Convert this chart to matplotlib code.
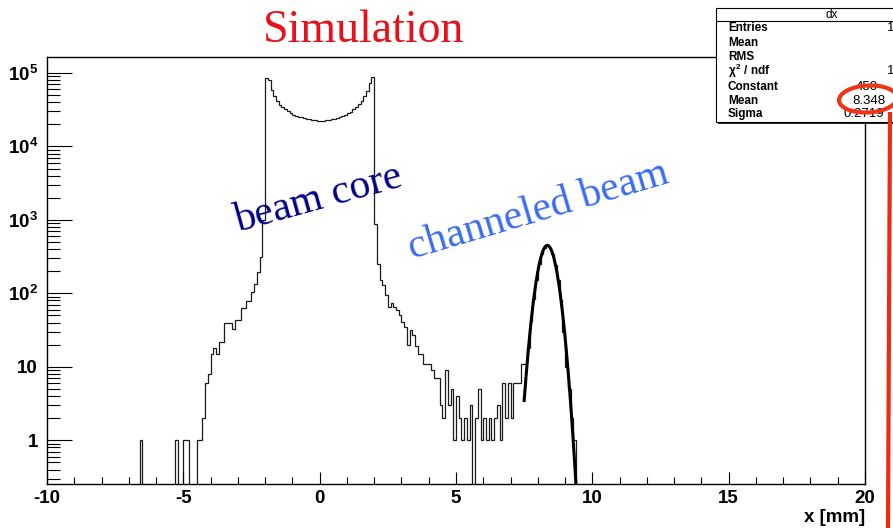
import numpy as np
import matplotlib
matplotlib.use("Agg")
import matplotlib.pyplot as plt
from matplotlib.patches import Rectangle, Ellipse
from matplotlib.ticker import FixedLocator, FuncFormatter, MultipleLocator, LogLocator, NullFormatter

plt.rcParams['font.family'] = ['Liberation Sans', 'DejaVu Sans']
plt.rcParams['mathtext.fontset'] = 'custom'
plt.rcParams['mathtext.rm'] = 'Liberation Sans:bold'
plt.rcParams['mathtext.bf'] = 'Liberation Sans:bold'
plt.rcParams['mathtext.it'] = 'Liberation Sans:bold'

# ---------------- data ----------------
bin_width = 0.1
x_min, x_max = -10.0, 20.0

# left tail, bins starting at -6.6 ... -2.1
left_tail_start = -6.6
left_tail_counts = [1, 0, 0, 0, 0, 0, 0, 0, 0, 0, 0, 0, 0, 1, 0, 0, 1, 1, 0, 0, 0,
                    1, 1, 2, 6, 8, 15, 18, 15, 22, 22, 39, 39, 39, 33, 43, 43,
                    64, 64, 79, 79, 105, 136, 196, 314, 1000]

# beam core, bins starting at -2.0 ... 1.9
core_start = -2.0
core_counts = [86000, 80000, 58000, 48000, 41000, 37000, 34000, 32000, 30000, 28500,
               27000, 26000, 25500, 24800, 24300, 23800, 23300, 23000, 22600, 22300,
               22000, 22200, 22700, 23200, 23600, 24000, 24600, 25300, 26000, 27000,
               28300, 29800, 32000, 34500, 37500, 42000, 48000, 56000, 72000, 88000]

# right tail, bins starting at 2.0 ... 7.5
right_tail_start = 2.0
right_tail_counts = [890, 250, 150, 130, 95, 65, 73, 65, 59, 50,
                     41, 35, 20, 32, 27, 19, 15, 15, 11, 11,
                     11, 9, 7, 7, 3, 2, 9, 3, 5, 1,
                     4, 2, 1, 2, 1, 3, 0, 2, 5, 1,
                     2, 1, 2, 1, 2, 3, 1, 6, 2, 6,
                     2, 6, 6, 6, 11, 11]

# channeled peak, bins starting at 7.6 ... 9.3
peak_start = 7.6
peak_counts = [18, 42, 85, 150, 250, 340, 420, 445, 420, 340,
               245, 150, 80, 30, 10, 5, 2, 1]

# gaussian fit parameters (stats box)
fit_constant = 450.0
fit_mean = 8.348
fit_sigma = 0.2719
fit_range = (7.5, 9.5)

x_ticks = [-10, -5, 0, 5, 10, 15, 20]
y_ticks = [1, 10, 1e2, 1e3, 1e4, 1e5]
y_tick_labels = ['1', '10', r'$10^{2}$', r'$10^{3}$', r'$10^{4}$', r'$10^{5}$']

stat_names = ['Entries', 'Mean', 'RMS', r'$\chi^{2}$ / ndf', 'Constant', 'Mean', 'Sigma']
stat_values = ['1', '', '', '1', '450', '8.348', '0.2719']

# ---------------- build histogram ----------------
nbins = int(round((x_max - x_min) / bin_width))
edges = x_min + bin_width * np.arange(nbins + 1)
counts = np.zeros(nbins)
for start, vals in [(left_tail_start, left_tail_counts), (core_start, core_counts),
                    (right_tail_start, right_tail_counts), (peak_start, peak_counts)]:
    i0 = int(round((start - x_min) / bin_width))
    counts[i0:i0 + len(vals)] = vals

floor = 1e-3
counts_plot = np.where(counts > 0, counts, floor)

# ---------------- figure ----------------
W, H = 893, 528
fig = plt.figure(figsize=(W / 100, H / 100), dpi=100)
ax_l, ax_r, ax_t, ax_b = 47, 865, 57, 484
ax = fig.add_axes([ax_l / W, 1 - ax_b / H, (ax_r - ax_l) / W, (ax_b - ax_t) / H])

ax.stairs(counts_plot, edges, baseline=floor, color='#1a1a1a', lw=0.9)

xf = np.linspace(fit_range[0], fit_range[1], 400)
yf = fit_constant * np.exp(-0.5 * ((xf - fit_mean) / fit_sigma) ** 2)
ax.plot(xf, yf, color='black', lw=2.2)

ax.set_yscale('log')
ax.set_xlim(x_min, x_max)
ax.set_ylim(0.254, 1.65e5)

ax.xaxis.set_major_locator(FixedLocator(x_ticks))
ax.xaxis.set_minor_locator(MultipleLocator(1))
ax.set_xticklabels([str(t) for t in x_ticks])
ax.yaxis.set_major_locator(FixedLocator(y_ticks))
ax.yaxis.set_major_formatter(FuncFormatter(lambda v, p: y_tick_labels[y_ticks.index(v)] if v in y_ticks else ''))
ax.yaxis.set_minor_locator(LogLocator(base=10, subs=np.arange(2, 10), numticks=50))
ax.yaxis.set_minor_formatter(NullFormatter())

ax.tick_params(axis='x', which='major', direction='in', length=8.6, width=0.8, pad=4,
               labelsize=13.5, top=False)
ax.tick_params(axis='x', which='minor', direction='in', length=4.8, width=0.8, top=False)
ax.tick_params(axis='y', which='major', direction='in', length=18, width=0.8, pad=6.5,
               labelsize=13.5, right=False)
ax.tick_params(axis='y', which='minor', direction='in', length=9.4, width=0.8, right=False)
for lab in ax.get_xticklabels() + ax.get_yticklabels():
    lab.set_fontweight('bold')
for s in ax.spines.values():
    s.set_linewidth(1.0)

# ---------------- overlay in pixel coordinates ----------------
ov = fig.add_axes([0, 0, 1, 1], zorder=5)
ov.set_xlim(0, W)
ov.set_ylim(H, 0)
ov.axis('off')
ov.patch.set_alpha(0)

ov.text(865, 526, 'x [mm]', ha='right', va='bottom', fontsize=13.5, fontweight='bold')

ov.text(364, 42, 'Simulation', ha='center', va='baseline', fontsize=33,
        family='Liberation Serif', color='#e8101a')
ov.text(238, 232, 'beam core', ha='left', va='baseline', rotation=15.5, rotation_mode='anchor',
        fontsize=30, family='Liberation Serif', color='#00008b')
ov.text(412, 259, 'channeled beam', ha='left', va='baseline', rotation=16.5, rotation_mode='anchor',
        fontsize=30, family='Liberation Serif', color='#3a6cf4')

# stats box
ov.add_patch(Rectangle((718, 10), 231, 114, facecolor='#222222', edgecolor='none', zorder=1))
ov.add_patch(Rectangle((716, 8), 231, 114, facecolor='white', edgecolor='black', lw=0.8, zorder=2))
ov.plot([716, 947], [21, 21], color='black', lw=0.8, zorder=3)
ov.text(832, 14.5, 'dx', ha='center', va='center', fontsize=8.5, zorder=4)
row_y = [28.3, 42.8, 57.1, 71.4, 86.7, 100.8, 114.2]
val_x = [887, 887, 887, 887, 856, 852, 843]
for name, val, y, vx in zip(stat_names, stat_values, row_y, val_x):
    ov.text(728, y, name, ha='left', va='center', fontsize=8.5, fontweight='bold', zorder=4)
    if val:
        ov.text(vx, y, val, ha='left', va='center', fontsize=9.5, zorder=4)

ov.add_patch(Ellipse((868, 99), 58, 27, angle=-3, facecolor='none', edgecolor='#ef3417', lw=3.0, zorder=6))
ov.plot([890, 888], [112, 528], color='#ef2a0e', lw=3.0, zorder=6, solid_capstyle='butt')

fig.savefig('out.png', dpi=100)
